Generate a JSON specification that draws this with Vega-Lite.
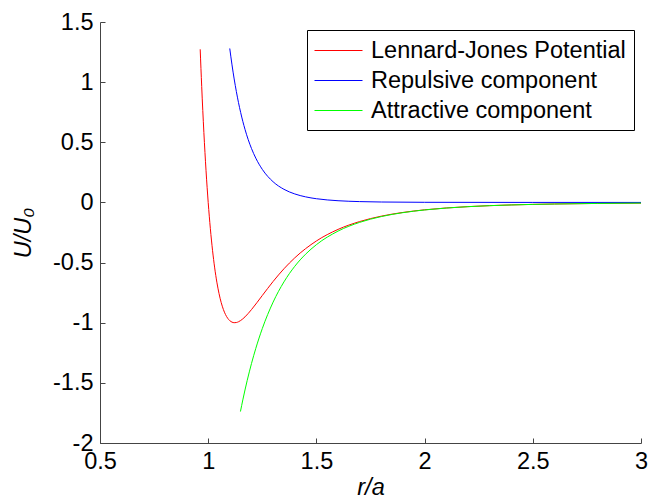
{
  "$schema": "https://vega.github.io/schema/vega-lite/v6.json",
  "width": 541,
  "height": 421,
  "autosize": {"type": "none"},
  "padding": {"left": 100, "top": 22, "right": 8, "bottom": 58},
  "background": "white",
  "config": {
    "view": {"stroke": null},
    "font": "Liberation Sans",
    "axis": {
      "grid": false,
      "domainColor": "#444",
      "tickColor": "#444",
      "tickSize": -5,
      "labelFont": "Liberation Sans",
      "labelFontSize": 23.5,
      "labelColor": "black",
      "titleFont": "Liberation Sans",
      "titleFontSize": 23.5,
      "titleFontWeight": "normal",
      "titleFontStyle": "italic",
      "titleColor": "black"
    }
  },
  "data": {
    "values": [
      {"r": 0.963, "u": 1.273, "s": "Lennard-Jones Potential"},
      {"r": 0.97, "u": 0.9628, "s": "Lennard-Jones Potential"},
      {"r": 0.98, "u": 0.5819, "s": "Lennard-Jones Potential"},
      {"r": 0.99, "u": 0.2641, "s": "Lennard-Jones Potential"},
      {"r": 1.0, "u": 0.0, "s": "Lennard-Jones Potential"},
      {"r": 1.01, "u": -0.2184, "s": "Lennard-Jones Potential"},
      {"r": 1.02, "u": -0.3979, "s": "Lennard-Jones Potential"},
      {"r": 1.03, "u": -0.5444, "s": "Lennard-Jones Potential"},
      {"r": 1.04, "u": -0.6629, "s": "Lennard-Jones Potential"},
      {"r": 1.05, "u": -0.7575, "s": "Lennard-Jones Potential"},
      {"r": 1.06, "u": -0.832, "s": "Lennard-Jones Potential"},
      {"r": 1.07, "u": -0.8893, "s": "Lennard-Jones Potential"},
      {"r": 1.08, "u": -0.9322, "s": "Lennard-Jones Potential"},
      {"r": 1.09, "u": -0.9629, "s": "Lennard-Jones Potential"},
      {"r": 1.1, "u": -0.9834, "s": "Lennard-Jones Potential"},
      {"r": 1.11, "u": -0.9952, "s": "Lennard-Jones Potential"},
      {"r": 1.12, "u": -0.9998, "s": "Lennard-Jones Potential"},
      {"r": 1.13, "u": -0.9984, "s": "Lennard-Jones Potential"},
      {"r": 1.14, "u": -0.9921, "s": "Lennard-Jones Potential"},
      {"r": 1.15, "u": -0.9817, "s": "Lennard-Jones Potential"},
      {"r": 1.17, "u": -0.9515, "s": "Lennard-Jones Potential"},
      {"r": 1.2, "u": -0.891, "s": "Lennard-Jones Potential"},
      {"r": 1.25, "u": -0.7737, "s": "Lennard-Jones Potential"},
      {"r": 1.3, "u": -0.657, "s": "Lennard-Jones Potential"},
      {"r": 1.35, "u": -0.5516, "s": "Lennard-Jones Potential"},
      {"r": 1.4, "u": -0.4607, "s": "Lennard-Jones Potential"},
      {"r": 1.5, "u": -0.3203, "s": "Lennard-Jones Potential"},
      {"r": 1.6, "u": -0.2242, "s": "Lennard-Jones Potential"},
      {"r": 1.7, "u": -0.1589, "s": "Lennard-Jones Potential"},
      {"r": 1.8, "u": -0.1141, "s": "Lennard-Jones Potential"},
      {"r": 1.9, "u": -0.0832, "s": "Lennard-Jones Potential"},
      {"r": 2.0, "u": -0.0615, "s": "Lennard-Jones Potential"},
      {"r": 2.2, "u": -0.035, "s": "Lennard-Jones Potential"},
      {"r": 2.4, "u": -0.0208, "s": "Lennard-Jones Potential"},
      {"r": 2.6, "u": -0.0129, "s": "Lennard-Jones Potential"},
      {"r": 2.8, "u": -0.0083, "s": "Lennard-Jones Potential"},
      {"r": 3.0, "u": -0.0055, "s": "Lennard-Jones Potential"},
      {"r": 1.0996, "u": 1.28, "s": "Repulsive component"},
      {"r": 1.11, "u": 1.1434, "s": "Repulsive component"},
      {"r": 1.12, "u": 1.0266, "s": "Repulsive component"},
      {"r": 1.13, "u": 0.9228, "s": "Repulsive component"},
      {"r": 1.14, "u": 0.8302, "s": "Repulsive component"},
      {"r": 1.15, "u": 0.7476, "s": "Repulsive component"},
      {"r": 1.17, "u": 0.6079, "s": "Repulsive component"},
      {"r": 1.2, "u": 0.4486, "s": "Repulsive component"},
      {"r": 1.22, "u": 0.368, "s": "Repulsive component"},
      {"r": 1.25, "u": 0.2749, "s": "Repulsive component"},
      {"r": 1.3, "u": 0.1717, "s": "Repulsive component"},
      {"r": 1.35, "u": 0.1091, "s": "Repulsive component"},
      {"r": 1.4, "u": 0.0706, "s": "Repulsive component"},
      {"r": 1.45, "u": 0.0463, "s": "Repulsive component"},
      {"r": 1.5, "u": 0.0308, "s": "Repulsive component"},
      {"r": 1.6, "u": 0.0142, "s": "Repulsive component"},
      {"r": 1.7, "u": 0.0069, "s": "Repulsive component"},
      {"r": 1.8, "u": 0.0035, "s": "Repulsive component"},
      {"r": 2.0, "u": 0.001, "s": "Repulsive component"},
      {"r": 2.5, "u": 0.0001, "s": "Repulsive component"},
      {"r": 3.0, "u": 0.0, "s": "Repulsive component"},
      {"r": 1.149, "u": -1.7384, "s": "Attractive component"},
      {"r": 1.16, "u": -1.6417, "s": "Attractive component"},
      {"r": 1.18, "u": -1.4818, "s": "Attractive component"},
      {"r": 1.2, "u": -1.3396, "s": "Attractive component"},
      {"r": 1.22, "u": -1.2132, "s": "Attractive component"},
      {"r": 1.25, "u": -1.0486, "s": "Attractive component"},
      {"r": 1.3, "u": -0.8287, "s": "Attractive component"},
      {"r": 1.35, "u": -0.6607, "s": "Attractive component"},
      {"r": 1.4, "u": -0.5312, "s": "Attractive component"},
      {"r": 1.45, "u": -0.4304, "s": "Attractive component"},
      {"r": 1.5, "u": -0.3512, "s": "Attractive component"},
      {"r": 1.6, "u": -0.2384, "s": "Attractive component"},
      {"r": 1.7, "u": -0.1657, "s": "Attractive component"},
      {"r": 1.8, "u": -0.1176, "s": "Attractive component"},
      {"r": 1.9, "u": -0.085, "s": "Attractive component"},
      {"r": 2.0, "u": -0.0625, "s": "Attractive component"},
      {"r": 2.2, "u": -0.0353, "s": "Attractive component"},
      {"r": 2.4, "u": -0.0209, "s": "Attractive component"},
      {"r": 2.6, "u": -0.013, "s": "Attractive component"},
      {"r": 2.8, "u": -0.0083, "s": "Attractive component"},
      {"r": 3.0, "u": -0.0055, "s": "Attractive component"}
    ]
  },
  "mark": {"type": "line", "strokeWidth": 1, "interpolate": "monotone"},
  "encoding": {
    "x": {
      "field": "r", "type": "quantitative",
      "scale": {"domain": [0.5, 3], "nice": false, "zero": false},
      "axis": {"title": "r/a", "values": [0.5, 1, 1.5, 2, 2.5, 3], "labelExpr": "datum.value + ''", "labelPadding": 11, "titlePadding": 3, "labelFlush": false}
    },
    "y": {
      "field": "u", "type": "quantitative",
      "scale": {"domain": [-2, 1.5], "nice": false, "zero": false},
      "axis": {"title": "U/U₀", "values": [-2, -1.5, -1, -0.5, 0, 0.5, 1, 1.5], "labelExpr": "datum.value + ''", "labelPadding": 12, "titlePadding": 17, "labelFlush": false}
    },
    "color": {
      "field": "s", "type": "nominal",
      "scale": {
        "domain": ["Lennard-Jones Potential", "Repulsive component", "Attractive component"],
        "range": ["#ff0000", "#0000ff", "#00ff00"]
      },
      "legend": {
        "title": null,
        "orient": "none",
        "legendX": 207,
        "legendY": 8,
        "symbolType": "M-2,0H2",
        "symbolSize": 576,
        "symbolStrokeWidth": 1,
        "symbolOffset": 11,
        "labelOffset": 20,
        "labelFont": "Liberation Sans",
        "labelFontSize": 23.5,
        "labelColor": "black",
        "labelLimit": 400,
        "strokeColor": "black",
        "fillColor": "white",
        "padding": 8,
        "rowPadding": 6
      }
    },
    "order": {"field": "r"}
  }
}
